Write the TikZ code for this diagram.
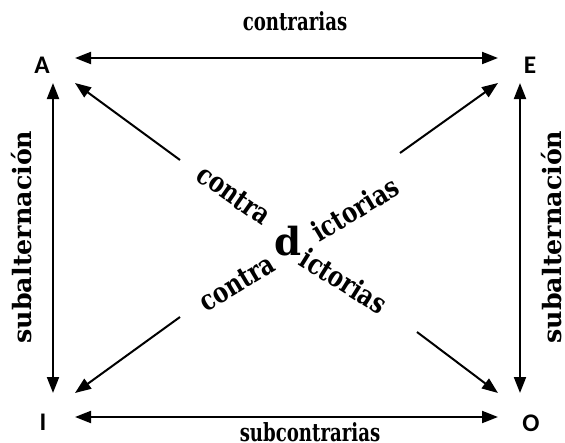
\documentclass[tikz,border=0pt]{standalone}
\usepackage{fontspec}
\setmainfont{DejaVu Serif}
\newfontfamily\vertexfont{Carlito}
\usepackage{tikz}
\usetikzlibrary{arrows.meta,positioning,calc}
\newcommand{\tall}[1]{\scalebox{1}[1.25]{#1}}
\tikzset{
    vertex/.style={font=\vertexfont\bfseries\fontsize{19}{19}\selectfont, inner sep=0pt},
    rel/.style={font=\bfseries\fontsize{17}{17}\selectfont, inner sep=0pt},
    subal/.style={font=\bfseries\fontsize{19}{19}\selectfont, inner sep=0pt, rotate=90},
    diag/.style={font=\bfseries\fontsize{17}{17}\selectfont, inner sep=0pt},
    bigd/.style={font=\bfseries\fontsize{29}{29}\selectfont, inner sep=0pt},
    both/.style={{Triangle[length=12pt,width=9pt]}-{Triangle[length=12pt,width=9pt]}, line width=1.5pt},
    one/.style={-{Triangle[length=12pt,width=9pt]}, line width=1.5pt},
}

\begin{document}
\begin{tikzpicture}[x=0.75pt,y=-0.75pt]
    \useasboundingbox (0,0) rectangle (565,443);

    % corners of the square
    \node[vertex] (A) at (42,65) {A};
    \node[vertex] (E) at (530,65) {E};
    \node[vertex] (I) at (43,422) {I};
    \node[vertex] (O) at (531,423) {O};

    % arrow ends
    \coordinate (aE) at (75,58);   \coordinate (eA) at (498,58);
    \coordinate (aI) at (53,83);   \coordinate (iA) at (53,393);
    \coordinate (eO) at (520,83);  \coordinate (oE) at (520,393);
    \coordinate (iO) at (75,417);  \coordinate (oI) at (498,417);
    \coordinate (aO) at (75,83);   \coordinate (oA) at (498,393);
    \coordinate (eI) at (498,83);  \coordinate (iE) at (75,393);
    \coordinate (gapA) at (180,160);
    \coordinate (gapE) at (400,153);
    \coordinate (gapI) at (180,317);
    \coordinate (gapO) at (417,332);

    \draw[both] (aE) -- (eA);
    \draw[both] (iO) -- (oI);
    \draw[both] (aI) -- (iA);
    \draw[both] (eO) -- (oE);
    \draw[one] (gapA) -- (aO);
    \draw[one] (gapE) -- (eI);
    \draw[one] (gapI) -- (iE);
    \draw[one] (gapO) -- (oA);

    % labels
    \node[rel] (contrarias) at (295,21) {\scalebox{0.8}[1.1]{contrarias}};
    \node[rel] (subcontrarias) at (310,432) {\scalebox{0.8}[1.1]{subcontrarias}};
    \node[subal] (subalL) at (22,237) {subalternación};
    \node[subal] (subalR) at (552,237) {subalternación};

    \node[diag, rotate=-35] (contraU) at (234,195) {\tall{contra}};
    \node[diag, rotate=31] (ictoriasU) at (355,209) {\tall{ictorias}};
    \node[bigd] (d) at (288,241) {d};
    \node[diag, rotate=31] (contraL) at (237,283) {\tall{contra}};
    \node[diag, rotate=-32] (ictoriasL) at (344,281) {\tall{ictorias}};
\end{tikzpicture}
\end{document}
